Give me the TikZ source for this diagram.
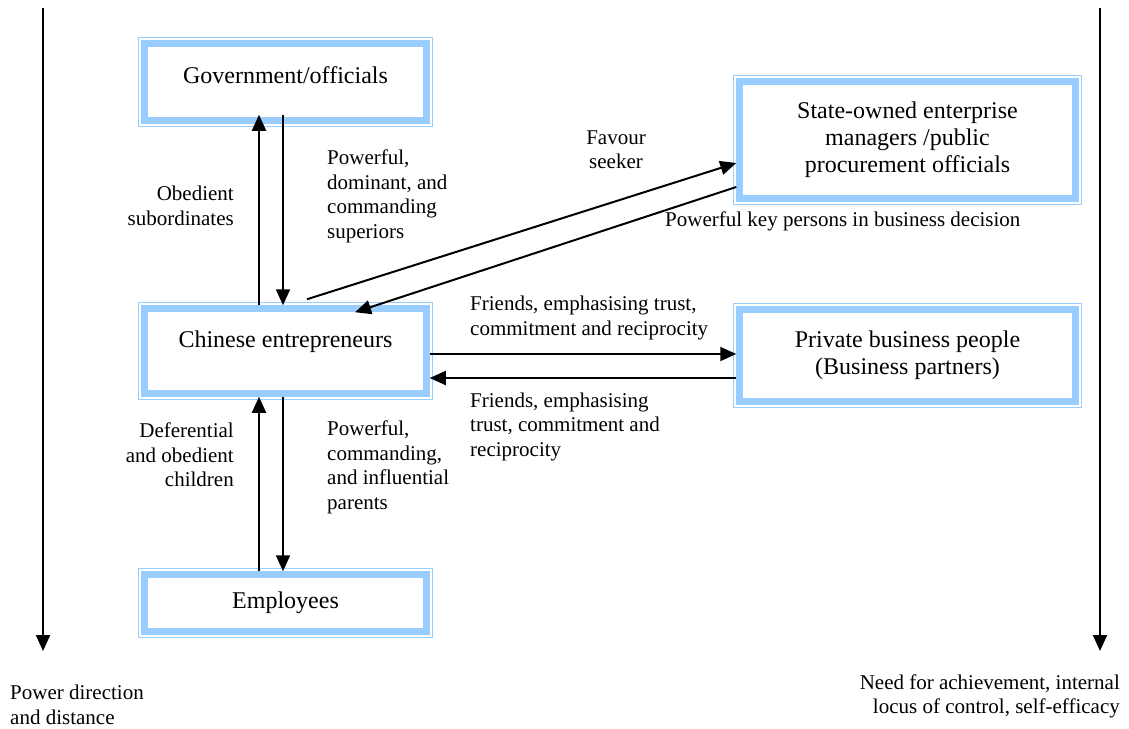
\documentclass[tikz,border=0pt]{standalone}
\usepackage{fontspec}
\setmainfont{Liberation Serif}
\usetikzlibrary{arrows.meta}
\definecolor{boxblue}{RGB}{153,204,255}
\begin{document}
\begin{tikzpicture}[x=1pt, y=-1pt,
  party/.style={draw=boxblue, line width=7pt, fill=white, align=center, inner sep=0pt, font=\fontsize{24}{27}\selectfont},
  note/.style={inner sep=0pt, font=\fontsize{21}{24.5}\selectfont},
  tie/.style={line width=2pt, -{Triangle[length=16pt,width=14pt]}}]
\useasboundingbox (0,0) rectangle (1129,728);
\node [party, minimum width=281.5, minimum height=76.5, text depth=14pt] (gov) at (285.5,82) {Government/officials};
\node [party, minimum width=335.5, minimum height=116.5] (soe) at (907.5,140) {State-owned enterprise\\managers /public\\procurement officials};
\node [party, minimum width=281.5, minimum height=84.5, text depth=24pt] (ent) at (285.5,351) {Chinese entrepreneurs};
\node [party, minimum width=335.5, minimum height=91.5] (pbp) at (907.5,355.5) {Private business people\\(Business partners)};
\node [party, minimum width=281.5, minimum height=56.5] (emp) at (285.5,603) {Employees};
\foreach \n in {gov,soe,ent,pbp,emp}
  \draw [boxblue, line width=1.3pt] ([shift={(-2.5pt,2.5pt)}]\n.north west) rectangle ([shift={(2.5pt,-2.5pt)}]\n.south east);

\draw [tie] ([xshift=-26.5pt]ent.north) -- ([xshift=-26.5pt,yshift=9pt]gov.south);
\draw [tie] ([xshift=-2.5pt,yshift=9pt]gov.south) -- ([xshift=-2.5pt]ent.north);
\draw [tie] ([xshift=21.5pt,yshift=6pt]ent.north) -- ([yshift=-23pt]soe.west);
\draw [tie] ([yshift=-47pt]soe.west) -- ([xshift=69.5pt,yshift=-7pt]ent.north);
\draw [tie] ([yshift=-3pt]ent.east) -- ([yshift=-3pt]ent.east -| pbp.west);
\draw [tie] ([yshift=-27pt]ent.east -| pbp.west) -- ([yshift=-27pt]ent.east);
\draw [tie] ([xshift=-26.5pt]emp.north) -- ([xshift=-26.5pt]ent.south);
\draw [tie] ([xshift=-2.5pt]ent.south) -- ([xshift=-2.5pt]emp.north);

\coordinate (pdtop) at (43,8);
\coordinate (pdend) at (43,651);
\coordinate (natop) at (1100,8);
\coordinate (naend) at (1100,651);
\draw [tie] (pdtop) -- (pdend);
\draw [tie] (natop) -- (naend);

\node [note, align=right, anchor=east] (obed) at (234,206) {Obedient\\subordinates};
\node [note, align=left, anchor=west] (sup) at (327,196.5) {Powerful,\\dominant, and\\commanding\\superiors};
\node [note, align=center] (fav) at (616,149.5) {Favour\\seeker};
\node [note, anchor=west] (key) at (665,221) {Powerful key persons in business decision};
\node [note, align=left, anchor=west] (fr1) at (470,318) {Friends, emphasising trust,\\commitment and reciprocity};
\node [note, align=left, anchor=west] (fr2) at (470,426.5) {Friends, emphasising\\trust, commitment and\\reciprocity};
\node [note, align=right, anchor=east] (kid) at (234,455) {Deferential\\and obedient\\children};
\node [note, align=left, anchor=west] (par) at (327,467.5) {Powerful,\\commanding,\\and influential\\parents};
\node [note, align=left, anchor=west] (pd) at (10,705) {Power direction\\and distance};
\node [note, align=right, anchor=east] (na) at (1120,696.5) {Need for achievement, internal\\locus of control, self-efficacy};
\end{tikzpicture}
\end{document}
